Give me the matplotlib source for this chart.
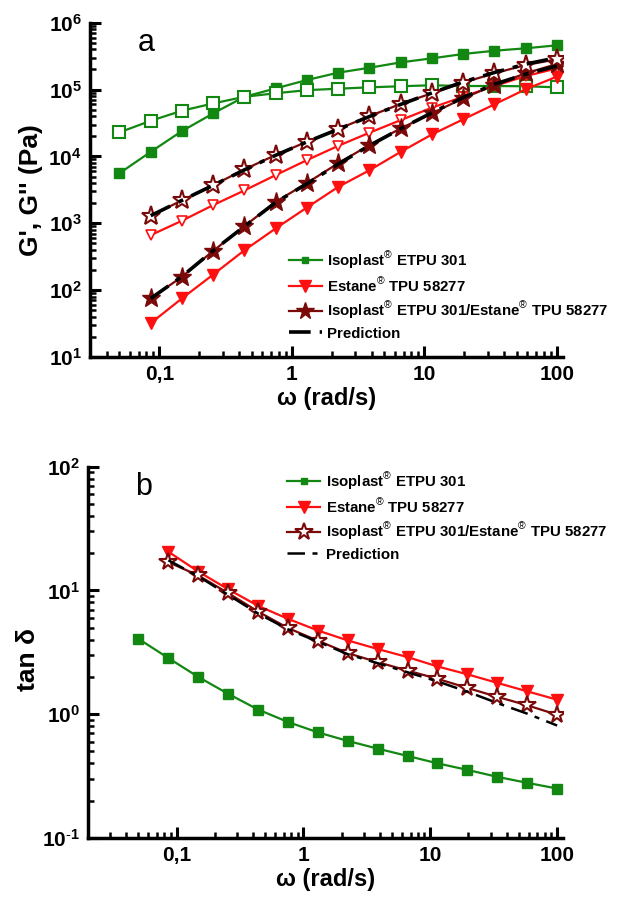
import math
import matplotlib
matplotlib.use("Agg")
import matplotlib.pyplot as plt
from matplotlib.ticker import LogLocator, FixedLocator, FuncFormatter, NullFormatter

plt.rcParams['font.family'] = ['Liberation Sans', 'DejaVu Sans']
plt.rcParams['mathtext.fontset'] = 'custom'
plt.rcParams['mathtext.rm'] = 'Liberation Sans'
plt.rcParams['mathtext.bf'] = 'Liberation Sans:bold'

# angular frequency (rad/s)
omega = [0.05, 0.0861, 0.148, 0.255, 0.439, 0.755, 1.30, 2.24, 3.85, 6.63,
         11.4, 19.6, 33.8, 58.1, 100]
omega_b = omega[1:]

# storage / loss moduli (Pa)
iso_gp = [5.6e3, 1.17e4, 2.39e4, 4.4e4, 7.8e4, 1.04e5, 1.39e5, 1.79e5, 2.12e5,
          2.55e5, 2.93e5, 3.4e5, 3.81e5, 4.14e5, 4.59e5]
iso_gpp = [2.29e4, 3.41e4, 4.82e4, 6.2e4, 7.8e4, 8.8e4, 9.8e4, 1.03e5, 1.08e5,
           1.12e5, 1.16e5, 1.13e5, 1.13e5, 1.12e5, 1.08e5]
est_gp = [32, 75, 171, 395, 836, 1.72e3, 3.5e3, 6.2e3, 1.17e4, 2.13e4, 3.58e4,
          6.0e4, 1.01e5, 1.56e5]
est_gpp = [664, 1.09e3, 1.87e3, 3.1e3, 5.25e3, 8.8e3, 1.44e4, 2.26e4, 3.49e4,
           5.35e4, 7.8e4, 1.13e5, 1.59e5, 2.07e5]
blend_gp = [75, 158, 386, 906, 2.09e3, 4.0e3, 7.9e3, 1.48e4, 2.62e4, 4.4e4,
            7.4e4, 1.17e5, 1.75e5, 2.41e5]
blend_gpp = [1.29e3, 2.2e3, 3.7e3, 6.4e3, 1.05e4, 1.66e4, 2.57e4, 4.0e4, 6.1e4,
             8.8e4, 1.27e5, 1.75e5, 2.33e5, 2.83e5]
pred_gp = [75, 160, 390, 900, 2.05e3, 3.9e3, 7.7e3, 1.45e4, 2.6e4, 4.5e4,
           7.6e4, 1.2e5, 1.7e5, 2.25e5]
pred_gpp = [1.3e3, 2.2e3, 3.7e3, 6.3e3, 1.04e4, 1.65e4, 2.55e4, 3.95e4, 6.0e4,
            8.9e4, 1.3e5, 1.8e5, 2.4e5, 3.0e5]

# loss tangent
iso_tan = [4.06, 2.84, 2.0, 1.46, 1.09, 0.865, 0.713, 0.608, 0.527, 0.46,
           0.401, 0.355, 0.312, 0.279, 0.251]
est_tan = [20.5, 14.2, 10.2, 7.5, 5.89, 4.74, 3.94, 3.36, 2.89, 2.43, 2.10,
           1.79, 1.53, 1.31]
blend_tan = [16.9, 13.2, 9.5, 6.74, 4.96, 3.92, 3.11, 2.63, 2.25, 1.93, 1.63,
             1.38, 1.18, 0.99]
pred_tan = [17.5, 13.0, 9.2, 6.5, 4.85, 3.85, 3.05, 2.58, 2.18, 1.84, 1.52,
            1.23, 1.01, 0.81]

labels = [r'Isoplast$^{®}$ ETPU 301',
          r'Estane$^{®}$ TPU 58277',
          r'Isoplast$^{®}$ ETPU 301/Estane$^{®}$ TPU 58277',
          'Prediction']
x_tick_text = {0.1: '0,1', 1: '1', 10: '10', 100: '100'}

GREEN = '#128712'
RED = '#ff1010'
BROWN = '#7a0a0a'

fig = plt.figure(figsize=(6.44, 9.01), dpi=100)
ax1 = fig.add_axes([0.1398, 0.6038, 0.7342, 0.371])
ax2 = fig.add_axes([0.1366, 0.0699, 0.7374, 0.4123])


def pow_label(v, pos):
    e = round(math.log10(v))
    e_txt = r'\text{-}%d' % (-e) if e < 0 else '%d' % e
    return r'$\mathbf{10^{%s}}$' % e_txt


def style_axis(ax, xlim, ylim):
    ax.set_xscale('log')
    ax.set_yscale('log')
    ax.set_xlim(*xlim)
    ax.set_ylim(*ylim)
    for s in ['top', 'right']:
        ax.spines[s].set_visible(False)
    for s in ['left', 'bottom']:
        ax.spines[s].set_linewidth(2.5)
    ax.xaxis.set_major_locator(FixedLocator([0.1, 1, 10, 100]))
    ax.xaxis.set_major_formatter(FuncFormatter(
        lambda v, p: x_tick_text.get(round(v, 3), '')))
    ax.xaxis.set_minor_locator(LogLocator(base=10, subs=range(2, 10), numticks=20))
    ax.xaxis.set_minor_formatter(NullFormatter())
    ax.yaxis.set_major_locator(LogLocator(base=10, numticks=20))
    ax.yaxis.set_major_formatter(FuncFormatter(pow_label))
    ax.yaxis.set_minor_locator(LogLocator(base=10, subs=range(2, 10), numticks=20))
    ax.yaxis.set_minor_formatter(NullFormatter())
    ax.tick_params(which='major', direction='in', length=8, width=2.2,
                   labelsize=15, pad=6)
    ax.tick_params(which='minor', direction='in', length=4, width=1.8)
    for t in ax.get_xticklabels() + ax.get_yticklabels():
        t.set_fontweight('bold')
    ax.set_xlabel('ω (rad/s)', fontsize=17, fontweight='bold', labelpad=2)


def add_legend(ax, handles, y_top):
    leg = ax.legend(handles, labels, loc='upper left',
                    bbox_to_anchor=(0.42, y_top), frameon=False, fontsize=10.8,
                    handlelength=2.2, handletextpad=0.35, labelspacing=0.36,
                    borderaxespad=0, borderpad=0)
    for t in leg.get_texts():
        t.set_fontweight('bold')
    return leg


# ---- panel a: moduli ----
style_axis(ax1, (0.03, 111), (10, 1e6))
lw = 1.6
h1, = ax1.plot(omega, iso_gp, '-s', color=GREEN, lw=lw, ms=6.5, mfc=GREEN, mec=GREEN)
ax1.plot(omega, iso_gpp, '-s', color=GREEN, lw=lw, ms=8, mfc='white', mec=GREEN, mew=1.5)
h2, = ax1.plot(omega_b, est_gp, '-v', color=RED, lw=lw, ms=9, mfc=RED, mec=RED)
ax1.plot(omega_b, est_gpp, '-v', color=RED, lw=lw, ms=6.5, mfc='white', mec=RED, mew=1.2)
h3, = ax1.plot(omega_b, blend_gp, '-*', color=BROWN, lw=lw, ms=14, mfc=BROWN, mec=BROWN)
ax1.plot(omega_b, blend_gpp, '-*', color=BROWN, lw=lw, ms=14, mfc='white', mec=BROWN, mew=1.5)
h4, = ax1.plot(omega_b, pred_gp, color='black', lw=2.6, dashes=(6, 2.5, 1.5, 2.5))
ax1.plot(omega_b, pred_gpp, color='black', lw=2.6, dashes=(6, 2.5, 1.5, 2.5))
ax1.set_ylabel("G', G'' (Pa)", fontsize=19, fontweight='bold', labelpad=4)
ax1.text(0.1, 0.985, 'a', transform=ax1.transAxes, fontsize=22, va='top')
leg1 = add_legend(ax1, [h1, h2, h3, h4], 0.322)
leg1.legend_handles[0].set_markersize(5)
leg1.legend_handles[2].set_markersize(13)

# ---- panel b: loss tangent ----
style_axis(ax2, (0.02, 111), (0.1, 100))
g1, = ax2.plot(omega, iso_tan, '-s', color=GREEN, lw=lw, ms=6.5, mfc=GREEN, mec=GREEN)
g2, = ax2.plot(omega_b, est_tan, '-v', color=RED, lw=lw, ms=8, mfc=RED, mec=RED)
g3, = ax2.plot(omega_b, blend_tan, '-*', color=BROWN, lw=lw, ms=13, mfc='white', mec=BROWN, mew=1.5)
g4, = ax2.plot(omega_b, pred_tan, color='black', lw=1.8, dashes=(7, 3, 2, 3))
ax2.set_ylabel('tan δ', fontsize=19, fontweight='bold')
ax2.yaxis.set_label_coords(-0.10, 0.48)
ax2.text(0.1, 0.985, 'b', transform=ax2.transAxes, fontsize=22, va='top')
leg2 = add_legend(ax2, [g1, g2, g3, g4], 0.99)
leg2.legend_handles[0].set_markersize(5)

fig.savefig('out.png', dpi=100)
